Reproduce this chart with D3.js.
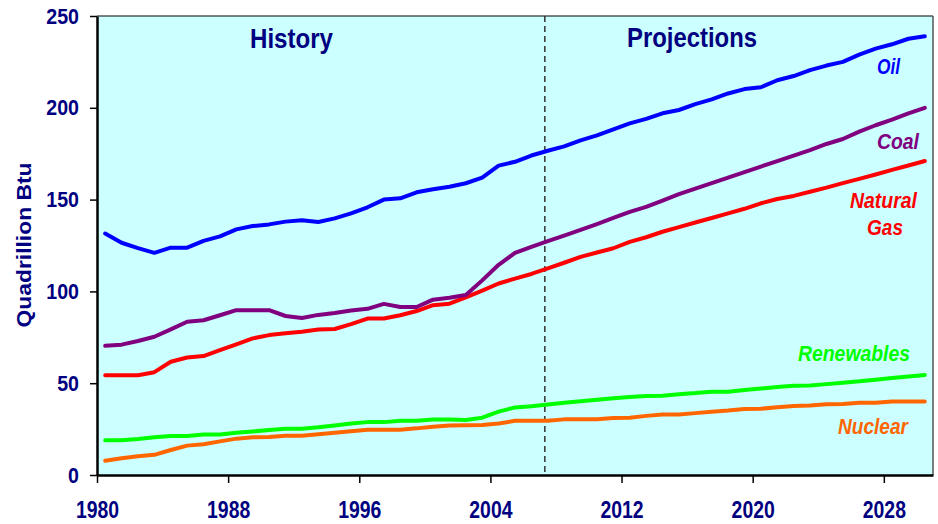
<!DOCTYPE html>
<html>
<head>
<meta charset="utf-8">
<script src="https://cdn.jsdelivr.net/npm/d3@7"></script>
<style>
  body { margin: 0; background: #fff; }
  text { font-family: "Liberation Sans", Arial, sans-serif; font-weight: bold; fill: #000080; }
  .axis path, .axis line { stroke: #000; }
  .line { fill: none; stroke-width: 4; stroke-linejoin: round; stroke-linecap: round; }
  .label { font-style: italic; }
</style>
</head>
<body>
<script>
// years on the category axis
let years = d3.range(1980, 2031);

// world energy use by fuel, quadrillion Btu
let oil = [131.5, 126.5, 123.6, 121, 123.8, 123.8, 127.5, 130, 133.8, 135.6,
  136.5, 138, 138.8, 137.8, 139.8, 142.5, 145.8, 150, 150.7, 154,
  155.6, 157, 158.9, 162, 168.5, 170.6, 174, 176.6, 179, 182.3,
  185, 188.3, 191.5, 194, 197, 198.8, 202, 204.6, 207.8, 210.2,
  211.2, 215, 217.3, 220.5, 223, 225, 229, 232.2, 234.6, 237.6, 239];
let coal = [70.4, 71, 73, 75.3, 79.3, 83.5, 84.3, 87, 89.8, 89.8,
  89.8, 86.6, 85.5, 87.2, 88.2, 89.6, 90.5, 93.2, 91.5, 91.5,
  95.5, 96.5, 98, 106, 114.5, 121, 124.3, 127.4, 130.4, 133.5,
  136.7, 140, 143.3, 146, 149.5, 153, 156, 159, 162, 165,
  168, 171, 174, 177, 180.3, 183, 187, 190.5, 193.6, 197, 200];
let gas = [54.3, 54.3, 54.3, 56, 61.7, 64, 64.8, 68, 71.2, 74.4,
  76.2, 77.2, 78, 79.3, 79.5, 82.2, 85.2, 85.2, 87, 89.3,
  92.5, 93.3, 96.8, 100.4, 104.3, 107, 109.5, 112.5, 115.6, 118.8,
  121.2, 123.5, 127, 129.5, 132.5, 135, 137.5, 140, 142.5, 145,
  148, 150.3, 152, 154.3, 156.5, 159, 161.3, 163.7, 166.2, 168.6, 171];
let renewables = [18.9, 18.9, 19.6, 20.5, 21.3, 21.3, 22.1, 22.1, 23, 23.7,
  24.5, 25.2, 25.2, 26, 27, 28, 28.8, 28.8, 29.5, 29.5,
  30.2, 30.2, 30, 31.2, 34.5, 36.8, 37.5, 38.4, 39.3, 40.2,
  41, 41.8, 42.5, 43, 43.2, 44, 44.6, 45.4, 45.4, 46.3,
  47.1, 47.9, 48.6, 48.7, 49.5, 50.3, 51, 51.9, 52.8, 53.6, 54.5];
let nuclear = [7.8, 9.1, 10.2, 11, 13.6, 16, 16.8, 18.3, 19.8, 20.6,
  20.7, 21.4, 21.4, 22.2, 23, 23.8, 24.6, 24.6, 24.7, 25.4,
  26.3, 27, 27.1, 27.2, 28, 29.5, 29.6, 29.6, 30.3, 30.3,
  30.4, 31.1, 31.2, 32.2, 32.9, 33, 33.7, 34.4, 35.1, 36,
  36.1, 36.9, 37.6, 37.8, 38.5, 38.7, 39.3, 39.4, 40, 40, 40];

let xTicks = [1980, 1988, 1996, 2004, 2012, 2020, 2028];
let yTicks = [0, 50, 100, 150, 200, 250];
let historyEnd = 2006.82; // where the dashed divider sits

let margin = {top: 16, right: 5, bottom: 49, left: 97};
let W = 938, H = 524;
let width = W - margin.left - margin.right;
let height = H - margin.top - margin.bottom;

let xScale = d3.scaleLinear().domain([1980, 2031]).range([0, width]);
let yScale = d3.scaleLinear().domain([0, 250]).range([height, 0]);

let svg = d3.select("body").append("svg")
    .attr("width", W)
    .attr("height", H)
  .append("g")
    .attr("transform", "translate(" + margin.left + "," + margin.top + ")");

// plot background
svg.append("rect")
  .attr("width", width)
  .attr("height", height)
  .attr("fill", "#ccffff");

// top + right border
svg.append("line").attr("x1", 0).attr("x2", width).attr("y1", 0).attr("y2", 0)
  .attr("stroke", "#000").attr("stroke-width", 1);
svg.append("line").attr("x1", width).attr("x2", width).attr("y1", 0).attr("y2", height)
  .attr("stroke", "#555").attr("stroke-width", 1.5);

// history / projections divider
svg.append("line")
  .attr("x1", xScale(historyEnd + 0.5)).attr("x2", xScale(historyEnd + 0.5))
  .attr("y1", 0).attr("y2", height)
  .attr("stroke", "#333").attr("stroke-width", 1.5)
  .attr("stroke-dasharray", "6,4");

// lines
let line = d3.line()
  .x(function(d, i) { return xScale(years[i] + 0.5); })
  .y(function(d) { return yScale(d); });

let series = [
  {v: oil, c: "#0000ff"},
  {v: gas, c: "#ff0000"},
  {v: coal, c: "#800080"},
  {v: nuclear, c: "#ff6600"},
  {v: renewables, c: "#00ff00"}
];
series.forEach(function(s) {
  svg.append("path")
    .datum(s.v)
    .attr("class", "line")
    .attr("stroke", s.c)
    .attr("d", line);
});

// axes
let xAxis = svg.append("g")
  .attr("class", "axis")
  .attr("transform", "translate(0," + height + ")")
  .call(d3.axisBottom(xScale).tickValues(xTicks).tickFormat(d3.format("d")).tickSize(8).tickSizeOuter(0));
xAxis.select(".domain").attr("stroke-width", 2.5);
xAxis.selectAll(".tick line").attr("stroke-width", 1.5);
xAxis.selectAll("text")
  .attr("y", 27)
  .attr("dy", "0.71em")
  .style("font-size", "23px")
  .attr("textLength", function(d) { return String(d).length * 10.8; })
  .attr("lengthAdjust", "spacingAndGlyphs");

let yAxis = svg.append("g")
  .attr("class", "axis")
  .call(d3.axisLeft(yScale).tickValues(yTicks).tickSize(7).tickSizeOuter(0));
yAxis.select(".domain").attr("stroke-width", 2.5);
yAxis.selectAll(".tick line").attr("stroke-width", 1.5);
yAxis.selectAll("text")
  .attr("x", -18)
  .style("font-size", "22px")
  .attr("textLength", function(d) { return String(d).length * 10.9; })
  .attr("lengthAdjust", "spacingAndGlyphs");
svg.selectAll(".axis text").style("fill", "#000080");

// axis title
svg.append("text")
  .attr("transform", "rotate(270)")
  .attr("x", -(245 - margin.top))
  .attr("y", 31 - margin.left)
  .attr("text-anchor", "middle")
  .style("font-size", "21px")
  .attr("textLength", 165)
  .attr("lengthAdjust", "spacingAndGlyphs")
  .text("Quadrillion Btu");

// section titles
function tag(txt, x, y, size, len, color, cls) {
  svg.append("text")
    .attr("class", cls || null)
    .attr("x", x - margin.left)
    .attr("y", y - margin.top)
    .style("font-size", size + "px")
    .style("fill", color || "#000080")
    .attr("textLength", len)
    .attr("lengthAdjust", "spacingAndGlyphs")
    .text(txt);
}
tag("History", 250, 48, 28, 83);
tag("Projections", 627, 47, 28, 130);

// series labels
tag("Oil", 877, 74, 22, 23, "#0000ff", "label");
tag("Coal", 877, 149, 22, 42, "#800080", "label");
tag("Natural", 850, 208, 22, 67, "#ff0000", "label");
tag("Gas", 867, 235, 22, 36, "#ff0000", "label");
tag("Renewables", 798, 361, 22, 112, "#00ff00", "label");
tag("Nuclear", 838, 434, 22, 70, "#ff6600", "label");
</script>
</body>
</html>
